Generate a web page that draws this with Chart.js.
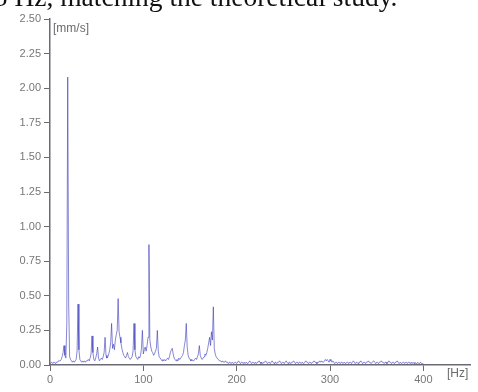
<!DOCTYPE html>
<html>
<head>
<meta charset="utf-8">
<script src="https://cdn.jsdelivr.net/npm/chart.js@4.4.1/dist/chart.umd.min.js"></script>
<style>
  html, body { margin: 0; padding: 0; background: #fff; overflow: hidden; }
  #wrap { position: relative; width: 478px; height: 392px; }
  #caption {
    position: absolute; left: -20px; top: -17px;
    font: 27.5px "Liberation Serif", serif; line-height: 27.5px;
    color: #111; white-space: nowrap;
  }
</style>
</head>
<body>
<div id="wrap">
  <div id="caption">15 Hz, matching the theoretical study.</div>
  <canvas id="spectrum" width="478" height="392"></canvas>
</div>
<script>
// vibration velocity spectrum, one value per Hz from 0 to 400 [mm/s]
const velocity = [
  0.01,0.01,0.02,0.01,0.02,0.02,0.01,0.02,0.02,0.03,
  0.03,0.03,0.04,0.06,0.09,0.14,0.07,0.05,0.30,2.08,
  0.45,0.06,0.04,0.03,0.02,0.03,0.02,0.03,0.04,0.10,
  0.44,0.11,0.04,0.03,0.02,0.03,0.02,0.03,0.02,0.03,
  0.03,0.04,0.03,0.05,0.08,0.21,0.09,0.04,0.03,0.05,
  0.08,0.13,0.05,0.03,0.04,0.05,0.04,0.06,0.09,0.20,
  0.07,0.05,0.06,0.08,0.11,0.16,0.30,0.12,0.15,0.11,
  0.18,0.22,0.25,0.48,0.24,0.20,0.16,0.12,0.09,0.07,
  0.06,0.05,0.07,0.09,0.06,0.05,0.04,0.05,0.06,0.10,
  0.30,0.11,0.06,0.05,0.04,0.06,0.05,0.07,0.12,0.25,
  0.08,0.11,0.13,0.10,0.14,0.20,0.87,0.18,0.13,0.10,
  0.09,0.07,0.08,0.10,0.12,0.25,0.10,0.06,0.05,0.04,
  0.03,0.04,0.03,0.04,0.03,0.04,0.05,0.04,0.06,0.09,
  0.11,0.12,0.08,0.05,0.04,0.03,0.04,0.03,0.05,0.04,
  0.05,0.06,0.07,0.09,0.14,0.18,0.30,0.13,0.07,0.05,
  0.04,0.03,0.04,0.03,0.03,0.04,0.05,0.04,0.06,0.08,
  0.14,0.07,0.05,0.04,0.05,0.06,0.08,0.07,0.09,0.12,
  0.16,0.20,0.14,0.24,0.18,0.42,0.12,0.08,0.06,0.05,
  0.04,0.04,0.03,0.03,0.02,0.03,0.02,0.02,0.03,0.02,
  0.02,0.01,0.02,0.02,0.01,0.02,0.02,0.01,0.02,0.02,
  0.01,0.02,0.03,0.02,0.01,0.02,0.02,0.01,0.02,0.01,
  0.02,0.02,0.01,0.02,0.03,0.02,0.01,0.02,0.02,0.01,
  0.02,0.01,0.02,0.02,0.03,0.02,0.01,0.02,0.01,0.02,
  0.02,0.03,0.02,0.01,0.02,0.02,0.01,0.02,0.03,0.02,
  0.01,0.02,0.02,0.01,0.02,0.02,0.03,0.02,0.01,0.02,
  0.02,0.01,0.02,0.03,0.02,0.01,0.02,0.02,0.01,0.02,
  0.02,0.03,0.02,0.01,0.02,0.02,0.01,0.02,0.02,0.01,
  0.02,0.02,0.01,0.02,0.03,0.02,0.02,0.01,0.02,0.02,
  0.01,0.02,0.02,0.03,0.02,0.02,0.01,0.02,0.02,0.03,
  0.02,0.03,0.02,0.02,0.03,0.04,0.03,0.04,0.03,0.02,
  0.04,0.03,0.02,0.03,0.02,0.01,0.02,0.02,0.01,0.02,
  0.02,0.01,0.02,0.02,0.01,0.02,0.02,0.01,0.02,0.02,
  0.01,0.02,0.02,0.01,0.02,0.03,0.02,0.01,0.02,0.02,
  0.01,0.02,0.02,0.03,0.02,0.01,0.02,0.02,0.01,0.02,
  0.02,0.03,0.02,0.02,0.01,0.02,0.02,0.03,0.02,0.01,
  0.02,0.02,0.01,0.02,0.02,0.03,0.02,0.02,0.01,0.02,
  0.02,0.01,0.02,0.03,0.02,0.02,0.01,0.02,0.02,0.01,
  0.02,0.02,0.03,0.02,0.01,0.02,0.02,0.01,0.02,0.02,
  0.01,0.02,0.02,0.01,0.02,0.02,0.01,0.02,0.01,0.02,
  0.01,0.02,0.01,0.01,0.02,0.01,0.01,0.02,0.01,0.01,
  0.01
];
const freqHz = velocity.map((_, i) => i);

const xTicks = [0, 100, 200, 300, 400];
const yUnit = "[mm/s]";
const xUnit = "[Hz]";

const axisColor = "#6a6a76";
const labelFont = { family: "'Liberation Sans', Arial, sans-serif", size: 11 };

// unit labels next to the axes
const unitLabels = {
  id: "unitLabels",
  afterDraw(chart) {
    const ctx = chart.ctx;
    const area = chart.chartArea;
    ctx.save();
    ctx.font = "12px 'Liberation Sans', Arial, sans-serif";
    ctx.fillStyle = "#6a6a6a";
    ctx.textBaseline = "middle";
    ctx.textAlign = "left";
    ctx.fillText(yUnit, area.left + 3, area.top + 10);
    ctx.fillText(xUnit, area.right - 23, area.bottom + 9);
    ctx.restore();
  }
};

new Chart("spectrum", {
  type: "line",
  data: {
    datasets: [{
      data: freqHz.map((f, i) => ({ x: f, y: velocity[i] })),
      borderColor: "rgba(55,55,185,0.6)",
      borderWidth: 1,
      pointRadius: 0,
      tension: 0,
      fill: false
    }]
  },
  options: {
    responsive: false,
    animation: false,
    layout: { padding: { top: 19, right: 8, left: 0, bottom: 0 } },
    plugins: { legend: { display: false }, tooltip: { enabled: false } },
    scales: {
      x: {
        type: "linear",
        min: 0,
        max: 450,
        afterBuildTicks: (axis) => { axis.ticks = xTicks.map(v => ({ value: v })); },
        afterFit: (axis) => { axis.height = 27; },
        border: { display: true, color: axisColor, width: 1.5 },
        grid: { drawOnChartArea: false, drawTicks: true, tickLength: 6, color: axisColor },
        ticks: { color: "#777", font: labelFont, padding: 2, maxRotation: 0 }
      },
      y: {
        min: 0,
        max: 2.5,
        afterFit: (axis) => { axis.width = 50; },
        border: { display: true, color: axisColor, width: 1.5 },
        grid: { drawOnChartArea: false, drawTicks: true, tickLength: 6, color: axisColor },
        ticks: { stepSize: 0.25, color: "#777", font: labelFont, padding: 3,
                 callback: (v) => v.toFixed(2) }
      }
    }
  },
  plugins: [unitLabels]
});
</script>
</body>
</html>
